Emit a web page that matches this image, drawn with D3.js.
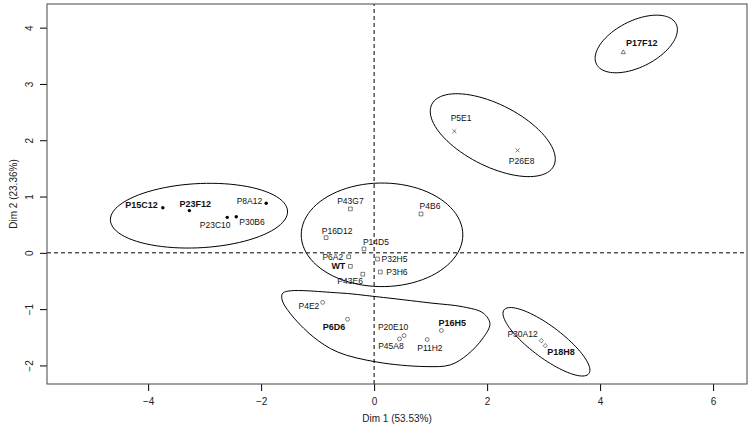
<!DOCTYPE html>
<html>
<head>
<meta charset="utf-8">
<script src="https://cdn.jsdelivr.net/npm/d3@7"></script>
<style>
	body { margin: 0; background: #fff; }
	svg { display: block; font-family: 'Liberation Sans', Arial, sans-serif; }
</style>
</head>
<body>
<div id="chart"></div>
<script>
// individuals on the first two dimensions
const names = ['P15C12', 'P23F12', 'P23C10', 'P30B6', 'P8A12',
	'P43G7', 'P4B6', 'P16D12', 'P14D5', 'P6A2', 'P32H5', 'WT', 'P3H6', 'P43E6',
	'P4E2', 'P6D6', 'P20E10', 'P45A8', 'P11H2', 'P16H5',
	'P30A12', 'P18H8', 'P5E1', 'P26E8', 'P17F12'];
const dim1 = [-3.74, -3.27, -2.60, -2.44, -1.91,
	-0.42, 0.83, -0.85, -0.18, -0.45, 0.06, -0.42, 0.11, -0.20,
	-0.91, -0.47, 0.53, 0.45, 0.94, 1.19,
	2.96, 3.03, 1.42, 2.54, 4.41];
const dim2 = [0.80, 0.75, 0.63, 0.64, 0.88,
	0.78, 0.69, 0.27, 0.07, -0.07, -0.11, -0.24, -0.34, -0.38,
	-0.88, -1.18, -1.47, -1.53, -1.54, -1.38,
	-1.56, -1.65, 2.16, 1.82, 3.56];
const cluster = [1, 1, 1, 1, 1,
	2, 2, 2, 2, 2, 2, 2, 2, 2,
	3, 3, 3, 3, 3, 3,
	4, 4, 5, 5, 6];
const boldNames = ['P15C12', 'P23F12', 'WT', 'P6D6', 'P16H5', 'P18H8', 'P17F12'];

// cluster outlines (dimension units)
const ellCx = [-3.10, 0.14, 3.05, 2.10, 4.64];
const ellCy = [0.66, 0.32, -1.58, 2.09, 3.71];
const ellRx = [1.57, 1.43, 0.94, 1.21, 0.79];
const ellRy = [0.57, 0.92, 0.28, 0.55, 0.41];
const ellAngle = [3, 0, -37, -27, 27];
const blobX = [-1.61, -0.65, 0.05, 0.99, 1.58, 1.93, 2.05, 1.93, 1.65, 1.35, 0.90, 0.05, -0.65, -1.08, -1.49, -1.63];
const blobY = [-0.71, -0.71, -0.78, -0.89, -0.96, -1.07, -1.26, -1.51, -1.81, -1.99, -2.02, -1.94, -1.76, -1.49, -1.07, -0.83];

const xTicks = [-4, -2, 0, 2, 4, 6];
const yTicks = [-2, -1, 0, 1, 2, 3, 4];

// label placement next to each point: [dx, dy, anchor]
const labelPos = {
	P15C12: [-5, -3, 'end'], P23F12: [6, -7, 'middle'], P23C10: [-12, 8, 'middle'],
	P30B6: [3, 5, 'start'], P8A12: [-4, -2, 'end'],
	P43G7: [0, -7.5, 'middle'], P4B6: [9, -8, 'middle'], P16D12: [11, -7, 'middle'],
	P14D5: [12, -7, 'middle'], P6A2: [-5.5, 0, 'end'], P32H5: [4, 0, 'start'],
	WT: [-5, 0, 'end'], P3H6: [6, 0, 'start'], P43E6: [-12.7, 7, 'middle'],
	P4E2: [-3.4, 4, 'end'], P6D6: [-13.5, 7.4, 'middle'], P20E10: [-11, -9, 'middle'],
	P45A8: [-8.6, 7, 'middle'], P11H2: [2.7, 8.3, 'middle'], P16H5: [11, -7.7, 'middle'],
	P30A12: [-3.7, -7, 'end'], P18H8: [2, 6.5, 'start'],
	P5E1: [6.7, -13, 'middle'], P26E8: [4, 10.5, 'middle'], P17F12: [2.7, -9, 'start'],
};

const width = 750;
const height = 434;
const margin = { top: 4, right: 3, bottom: 50, left: 47 };

const svg = d3.select('#chart').append('svg')
	.attr('width', width)
	.attr('height', height);

const x = d3.scaleLinear()
	.domain([-5.79, 6.60])
	.range([margin.left, width - margin.right]);
const y = d3.scaleLinear()
	.domain([-2.33, 4.42])
	.range([height - margin.bottom, margin.top]);

// reference lines
svg.append('line')
	.attr('x1', x.range()[0]).attr('x2', x.range()[1])
	.attr('y1', y(0)).attr('y2', y(0))
	.attr('stroke', '#000').attr('stroke-dasharray', '4,3');
svg.append('line')
	.attr('x1', x(0)).attr('x2', x(0))
	.attr('y1', y.range()[0]).attr('y2', y.range()[1])
	.attr('stroke', '#000').attr('stroke-dasharray', '4,3');

// ellipses
const ellipses = ellCx.map((cx, i) => {
	const a = ellAngle[i] * Math.PI / 180;
	return d3.range(0, 361, 4).map((t) => {
		const r = t * Math.PI / 180;
		const ex = ellRx[i] * Math.cos(r);
		const ey = ellRy[i] * Math.sin(r);
		return [cx + ex * Math.cos(a) - ey * Math.sin(a), ellCy[i] + ex * Math.sin(a) + ey * Math.cos(a)];
	});
});
const line = d3.line()
	.x((d) => x(d[0]))
	.y((d) => y(d[1]))
	.curve(d3.curveLinearClosed);

svg.append('g')
	.selectAll('path')
	.data(ellipses)
	.join('path')
	.attr('d', line)
	.attr('fill', 'none')
	.attr('stroke', '#000')
	.attr('stroke-width', 1);

const blob = blobX.map((bx, i) => [bx, blobY[i]]);
svg.append('path')
	.datum(blob)
	.attr('d', line.curve(d3.curveCatmullRomClosed.alpha(0.5)))
	.attr('fill', 'none')
	.attr('stroke', '#000')
	.attr('stroke-width', 1);

// points
const shapes = {
	1: d3.symbolCircle,
	2: d3.symbolSquare,
	3: d3.symbolCircle,
	4: d3.symbolDiamond2,
	5: d3.symbolTimes,
	6: d3.symbolTriangle2,
};
const sizes = { 1: 9, 2: 14, 3: 12, 4: 12, 5: 12, 6: 14 };
const points = names.map((n, i) => ({ name: n, x: dim1[i], y: dim2[i], c: cluster[i] }));

svg.append('g')
	.selectAll('path')
	.data(points)
	.join('path')
	.attr('transform', (d) => `translate(${x(d.x)},${y(d.y)})`)
	.attr('d', (d) => d3.symbol().type(shapes[d.c]).size(sizes[d.c])())
	.attr('fill', (d) => (d.c === 1 ? '#000' : 'none'))
	.attr('stroke', (d) => (d.c === 1 ? 'none' : '#444'))
	.attr('stroke-width', 0.7);

svg.append('g')
	.selectAll('text')
	.data(points)
	.join('text')
	.attr('x', (d) => x(d.x) + labelPos[d.name][0])
	.attr('y', (d) => y(d.y) + labelPos[d.name][1])
	.attr('text-anchor', (d) => labelPos[d.name][2])
	.attr('dominant-baseline', 'central')
	.attr('font-size', (d) => (boldNames.includes(d.name) ? 9 : 8.5))
	.attr('font-weight', (d) => (boldNames.includes(d.name) ? 'bold' : 'normal'))
	.attr('fill', '#111')
	.text((d) => d.name);

// axes
const xAxis = d3.axisBottom(x).tickValues(xTicks).tickSize(7).tickPadding(7).tickFormat(d3.format('d'));
const yAxis = d3.axisLeft(y).tickValues(yTicks).tickSize(7).tickPadding(5).tickFormat(d3.format('d'));

const gx = svg.append('g')
	.attr('transform', `translate(0,${height - margin.bottom})`)
	.call(xAxis);
gx.select('.domain').remove();
gx.selectAll('text').attr('font-size', 10).attr('fill', '#222').attr('font-family', null);

const gy = svg.append('g')
	.attr('transform', `translate(${margin.left},0)`)
	.call(yAxis);
gy.select('.domain').remove();
gy.selectAll('text')
	.attr('font-size', 10)
	.attr('fill', '#222')
	.attr('font-family', null)
	.attr('text-anchor', 'middle')
	.attr('transform', 'translate(-14,0) rotate(-90)')
	.attr('x', 0)
	.attr('dy', 0);

svg.append('rect')
	.attr('x', margin.left)
	.attr('y', margin.top)
	.attr('width', width - margin.left - margin.right)
	.attr('height', height - margin.top - margin.bottom)
	.attr('fill', 'none')
	.attr('stroke', '#444');

svg.append('text')
	.attr('x', (margin.left + width - margin.right) / 2)
	.attr('y', 422)
	.attr('text-anchor', 'middle')
	.attr('font-size', 10)
	.attr('fill', '#222')
	.text('Dim 1 (53.53%)');

svg.append('text')
	.attr('transform', `translate(17,${(margin.top + height - margin.bottom) / 2}) rotate(-90)`)
	.attr('text-anchor', 'middle')
	.attr('font-size', 10)
	.attr('fill', '#222')
	.text('Dim 2 (23.36%)');
</script>
</body>
</html>
